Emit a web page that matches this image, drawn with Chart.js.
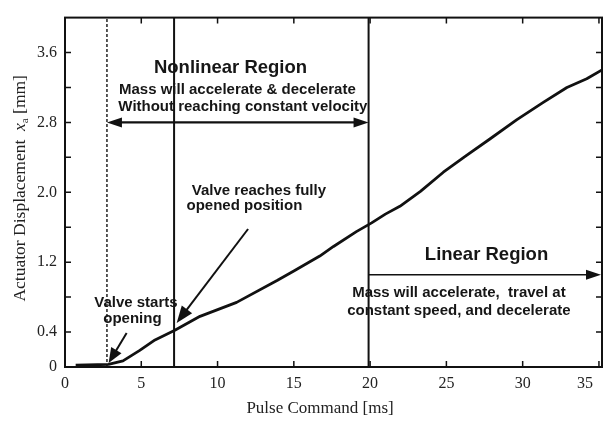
<!DOCTYPE html>
<html>
<head>
<meta charset="utf-8">
<script src="https://cdn.jsdelivr.net/npm/chart.js@4.4.1/dist/chart.umd.min.js"></script>
<style>
  html, body { margin: 0; padding: 0; background: #ffffff; }
  #wrap { width: 603px; height: 421px; }
</style>
</head>
<body>
<div id="wrap"><canvas id="chart" width="603" height="421"></canvas></div>
<script>
// Measured actuator displacement against pulse command length
const pulseMs = [0.7, 2.85, 3.8, 4.9, 5.9, 7.2, 8.85, 11.25, 13.9, 15.0, 16.7, 17.6, 19.1, 20.1,
                 21.0, 21.95, 23.3, 24.8, 26.3, 27.85, 29.6, 31.35, 32.9, 34.2, 35.2];
const displacementMm = [0.02, 0.03, 0.07, 0.19, 0.31, 0.42, 0.58, 0.74, 0.99, 1.10, 1.27, 1.38, 1.55, 1.65,
                        1.75, 1.84, 2.01, 2.23, 2.42, 2.61, 2.83, 3.03, 3.20, 3.30, 3.40];

// Boundaries: valve starts opening, valve fully open, start of linear region
const regionBoundsMs = [2.75, 7.15, 19.9];

// Axis ticks
const xTicksMs = [0, 5, 10, 15, 20, 25, 30, 35];
const yTickLabels = ['0', '0.4', '', '1.2', '', '2.0', '', '2.8', '', '3.6', ''];

const X_MIN = 0, X_MAX = 35.2, Y_MIN = 0, Y_MAX = 4.0;

const SERIF = '"Liberation Serif", "Times New Roman", serif';
const SANS = '"Liberation Sans", Arial, sans-serif';
const INK = '#111111';

function arrow(ctx, x1, y1, x2, y2, o) {
  const ang = Math.atan2(y2 - y1, x2 - x1);
  const L = o.head, H = o.half;
  const shaftEnd = (xa, ya, xb, yb) => [xb - Math.cos(Math.atan2(yb - ya, xb - xa)) * L * 0.8,
                                        yb - Math.sin(Math.atan2(yb - ya, xb - xa)) * L * 0.8];
  let sx = x1, sy = y1, ex = x2, ey = y2;
  [ex, ey] = shaftEnd(x1, y1, x2, y2);
  if (o.both) [sx, sy] = shaftEnd(x2, y2, x1, y1);
  ctx.save();
  ctx.strokeStyle = INK; ctx.fillStyle = INK; ctx.lineWidth = o.width;
  ctx.beginPath(); ctx.moveTo(sx, sy); ctx.lineTo(ex, ey); ctx.stroke();
  const head = (tx, ty, a) => {
    ctx.beginPath();
    ctx.moveTo(tx, ty);
    ctx.lineTo(tx - L * Math.cos(a) + H * Math.sin(a), ty - L * Math.sin(a) - H * Math.cos(a));
    ctx.lineTo(tx - L * Math.cos(a) - H * Math.sin(a), ty - L * Math.sin(a) + H * Math.cos(a));
    ctx.closePath(); ctx.fill();
  };
  head(x2, y2, ang);
  if (o.both) head(x1, y1, ang + Math.PI);
  ctx.restore();
}

const decorations = {
  id: 'decorations',
  afterDatasetsDraw(chart) {
    const { ctx, chartArea: a, scales: { x, y } } = chart;
    const px = v => x.getPixelForValue(v);
    const py = v => y.getPixelForValue(v);

    ctx.save();
    // frame
    ctx.strokeStyle = INK; ctx.lineWidth = 2;
    ctx.strokeRect(a.left, a.top, a.right - a.left, a.bottom - a.top);

    // inward tick marks on all four sides
    ctx.lineWidth = 1.5;
    ctx.beginPath();
    xTicksMs.forEach(v => {
      const X = px(v);
      if (X <= a.left + 1 || X >= a.right - 1) return;
      ctx.moveTo(X, a.bottom); ctx.lineTo(X, a.bottom - 6);
      ctx.moveTo(X, a.top); ctx.lineTo(X, a.top + 6);
    });
    y.ticks.forEach(t => {
      const Y = py(t.value);
      if (Y >= a.bottom - 1 || Y <= a.top + 1) return;
      ctx.moveTo(a.left, Y); ctx.lineTo(a.left + 6, Y);
      ctx.moveTo(a.right, Y); ctx.lineTo(a.right - 6, Y);
    });
    ctx.stroke();

    // x tick labels
    ctx.fillStyle = '#222';
    ctx.font = '16px ' + SERIF;
    ctx.textBaseline = 'alphabetic';
    ctx.textAlign = 'center';
    xTicksMs.forEach(v => {
      const s = String(v);
      const w = ctx.measureText(s).width;
      let X = px(v);
      if (X + w / 2 > a.right - 9) X = a.right - 9 - w / 2;
      ctx.fillText(s, X, a.bottom + 21);
    });

    // x axis title
    ctx.font = '17px ' + SERIF;
    ctx.fillText('Pulse Command [ms]', a.left + (a.right - a.left) * 0.475, a.bottom + 46);

    // y axis title with italic x and subscript a
    ctx.save();
    ctx.translate(25, (a.top + a.bottom) / 2 - 4);
    ctx.rotate(-Math.PI / 2);
    const parts = [
      { t: 'Actuator Displacement  ', f: '17.5px ' + SERIF, dy: 0 },
      { t: 'x', f: 'italic 17.5px ' + SERIF, dy: 0 },
      { t: 'a', f: '11px ' + SERIF, dy: 3 },
      { t: ' [mm]', f: '17.5px ' + SERIF, dy: 0 }
    ];
    let total = 0;
    parts.forEach(p => { ctx.font = p.f; p.w = ctx.measureText(p.t).width; total += p.w; });
    let cx = -total / 2;
    ctx.textAlign = 'left';
    parts.forEach(p => { ctx.font = p.f; ctx.fillText(p.t, cx, p.dy); cx += p.w; });
    ctx.restore();

    // region arrows
    arrow(ctx, px(regionBoundsMs[0]), py(2.8), px(regionBoundsMs[2]), py(2.8),
          { width: 2.2, head: 15, half: 5, both: true });
    arrow(ctx, px(regionBoundsMs[2]), py(1.055), a.right - 1, py(1.055),
          { width: 1.5, head: 15, half: 5, both: false });
    // pointer arrows
    arrow(ctx, px(12.0), py(1.58), px(7.32), py(0.505), { width: 2, head: 17, half: 6.5, both: false });
    arrow(ctx, px(4.04), py(0.39), px(2.86), py(0.045), { width: 2, head: 15, half: 6, both: false });

    // annotation text
    const notes = [
      ['Nonlinear Region', 'bold 18.5px', 10.85, 3.366],
      ['Mass will accelerate & decelerate', 'bold 15px', 11.3, 3.122],
      ['Without reaching constant velocity', 'bold 15px', 11.66, 2.932],
      ['Valve reaches fully', 'bold 15px', 12.71, 1.972],
      ['opened position', 'bold 15px', 11.76, 1.793],
      ['Valve starts', 'bold 15px', 4.65, 0.689],
      ['opening', 'bold 15px', 4.42, 0.503],
      ['Linear Region', 'bold 18.5px', 27.63, 1.228],
      ['Mass will accelerate,  travel at', 'bold 15px', 25.82, 0.80],
      ['constant speed, and decelerate', 'bold 15px', 25.82, 0.60]
    ];
    ctx.fillStyle = '#161616';
    ctx.textAlign = 'center';
    notes.forEach(([t, f, vx, vy]) => {
      ctx.font = f + ' ' + SANS;
      ctx.fillText(t, px(vx), py(vy));
    });
    ctx.restore();
  }
};

const curve = pulseMs.map((v, i) => ({ x: v, y: displacementMm[i] }));
const boundaryLines = regionBoundsMs.map((b, i) => ({
  data: [{ x: b, y: Y_MIN }, { x: b, y: Y_MAX }],
  borderColor: INK,
  borderWidth: i === 0 ? 1.4 : 2,
  borderDash: i === 0 ? [3, 2] : [],
  pointRadius: 0,
  tension: 0,
  fill: false
}));

new Chart(document.getElementById('chart'), {
  type: 'line',
  data: {
    datasets: [
      { data: curve, borderColor: INK, borderWidth: 2.8, pointRadius: 0, tension: 0, fill: false,
        borderJoinStyle: 'round' },
      ...boundaryLines
    ]
  },
  options: {
    responsive: false,
    animation: false,
    devicePixelRatio: 1,
    layout: { padding: { top: 7, right: 1, bottom: 54, left: 0 } },
    plugins: { legend: { display: false }, tooltip: { enabled: false } },
    scales: {
      x: { type: 'linear', min: X_MIN, max: X_MAX, display: false },
      y: {
        type: 'linear', min: Y_MIN, max: Y_MAX,
        grid: { display: false, drawTicks: false },
        border: { display: false },
        ticks: {
          stepSize: 0.4,
          padding: 8,
          color: '#222',
          font: { family: SERIF, size: 16 },
          callback: (v, i) => yTickLabels[i] ?? ''
        },
        afterFit: s => { s.width = 65; }
      }
    }
  },
  plugins: [decorations]
});
</script>
</body>
</html>
